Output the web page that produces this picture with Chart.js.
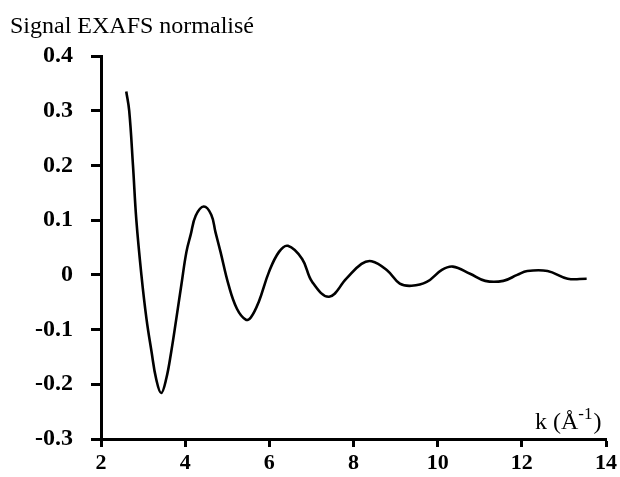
<!DOCTYPE html>
<html>
<head>
<meta charset="utf-8">
<script src="https://cdn.jsdelivr.net/npm/chart.js@4.4.1/dist/chart.umd.min.js"></script>
<style>
html,body{margin:0;padding:0;background:#fff;}
#wrap{width:620px;height:477px;}
</style>
</head>
<body>
<div id="wrap"><canvas id="exafsChart" width="620" height="477"></canvas></div>
<script>

// k values (Å-1)
const kValues = [
2.6, 2.67, 2.76, 2.84, 2.96, 3.08, 3.2, 3.31, 3.43,
3.55, 3.67, 3.79, 3.91, 4.03, 4.13, 4.25, 4.44, 4.62, 4.72,
4.84, 5.03, 5.23, 5.44, 5.56, 5.75, 5.99, 6.23, 6.44, 6.78,
7.02, 7.42, 7.83, 8.19, 8.43, 8.79, 9.1, 9.38, 9.74, 10.1,
10.36, 10.77, 11.13, 11.56, 11.89, 12.13, 12.61, 13.09, 13.54
];

// normalised EXAFS signal
const signalValues = [
0.335, 0.30, 0.20, 0.10, 0.0, -0.08, -0.14, -0.19, -0.216,
-0.19, -0.14, -0.08, -0.018, 0.042, 0.073, 0.108, 0.125, 0.11, 0.078,
0.042, -0.018, -0.062, -0.082, -0.078, -0.049, 0.005, 0.042, 0.053, 0.029,
-0.013, -0.04, -0.007, 0.02, 0.025, 0.009, -0.016, -0.02, -0.013, 0.009,
0.015, 0.002, -0.011, -0.011, 0.0, 0.007, 0.007, -0.007, -0.007
];

const xTicks = [2, 4, 6, 8, 10, 12, 14];
const yTicks = [0.4, 0.3, 0.2, 0.1, 0, -0.1, -0.2, -0.3];
const yTickLabels = ["0.4", "0.3", "0.2", "0.1", "0", "-0.1", "-0.2", "-0.3"];

const yTitle = "Signal EXAFS normalisé";
const xTitle = "k (Å";
const xTitleSup = "-1";

const serif = "'Liberation Serif', 'Times New Roman', serif";

// axis titles drawn by hand, the y one sits above the axis
const labelsPlugin = {
id:"axisLabels",
afterDraw(chart){
const c = chart.ctx;
c.save();
c.fillStyle = "#000";
c.textBaseline = "alphabetic";
c.textAlign = "left";
c.font = "24px " + serif;
c.fillText(yTitle, 10, 33);

const area = chart.chartArea;
const bx = 535, by = area.bottom - 10;
c.font = "24px " + serif;
c.fillText(xTitle, bx, by);
let w = c.measureText(xTitle).width;
c.font = "17px " + serif;
c.fillText(xTitleSup, bx + w, by - 10);
w += c.measureText(xTitleSup).width;
c.font = "24px " + serif;
c.fillText(")", bx + w + 1, by);
c.restore();
}
};

new Chart(document.getElementById("exafsChart"), {
type:"line",
data:{
datasets:[{
data: kValues.map((k, i) => ({x:k, y:signalValues[i]})),
borderColor:"#000",
borderWidth:2.6,
pointRadius:0,
fill:false,
tension:0.4
}]
},
options:{
responsive:false,
animation:false,
layout:{padding:{top:56, right:14, left:0, bottom:0}},
plugins:{
legend:{display:false},
tooltip:{enabled:false}
},
scales:{
x:{
type:"linear",
min:2,
max:14,
afterBuildTicks(scale){
scale.ticks = xTicks.map(v => ({value:v}));
},
afterFit(scale){
scale.height = 38;
},
grid:{
drawOnChartArea:false,
drawTicks:true,
tickLength:8,
tickWidth:3,
tickColor:"#000"
},
border:{display:true, color:"#000", width:3},
ticks:{
color:"#000",
font:{family:serif, size:22, weight:"bold"},
padding:3,
maxRotation:0,
callback:v => String(v)
}
},
y:{
type:"linear",
min:-0.3,
max:0.4,
afterBuildTicks(scale){
scale.ticks = yTicks.map(v => ({value:v}));
},
afterFit(scale){
scale.width = 101;
},
grid:{
drawOnChartArea:false,
drawTicks:true,
tickLength:10,
tickWidth:3,
tickColor:"#000"
},
border:{display:true, color:"#000", width:3},
ticks:{
color:"#000",
font:{family:serif, size:24, weight:"bold"},
padding:18,
callback:v => yTickLabels[yTicks.findIndex(t => Math.abs(t - v) < 1e-9)]
}
}
}
},
plugins:[labelsPlugin]
});
</script>
</body>
</html>
